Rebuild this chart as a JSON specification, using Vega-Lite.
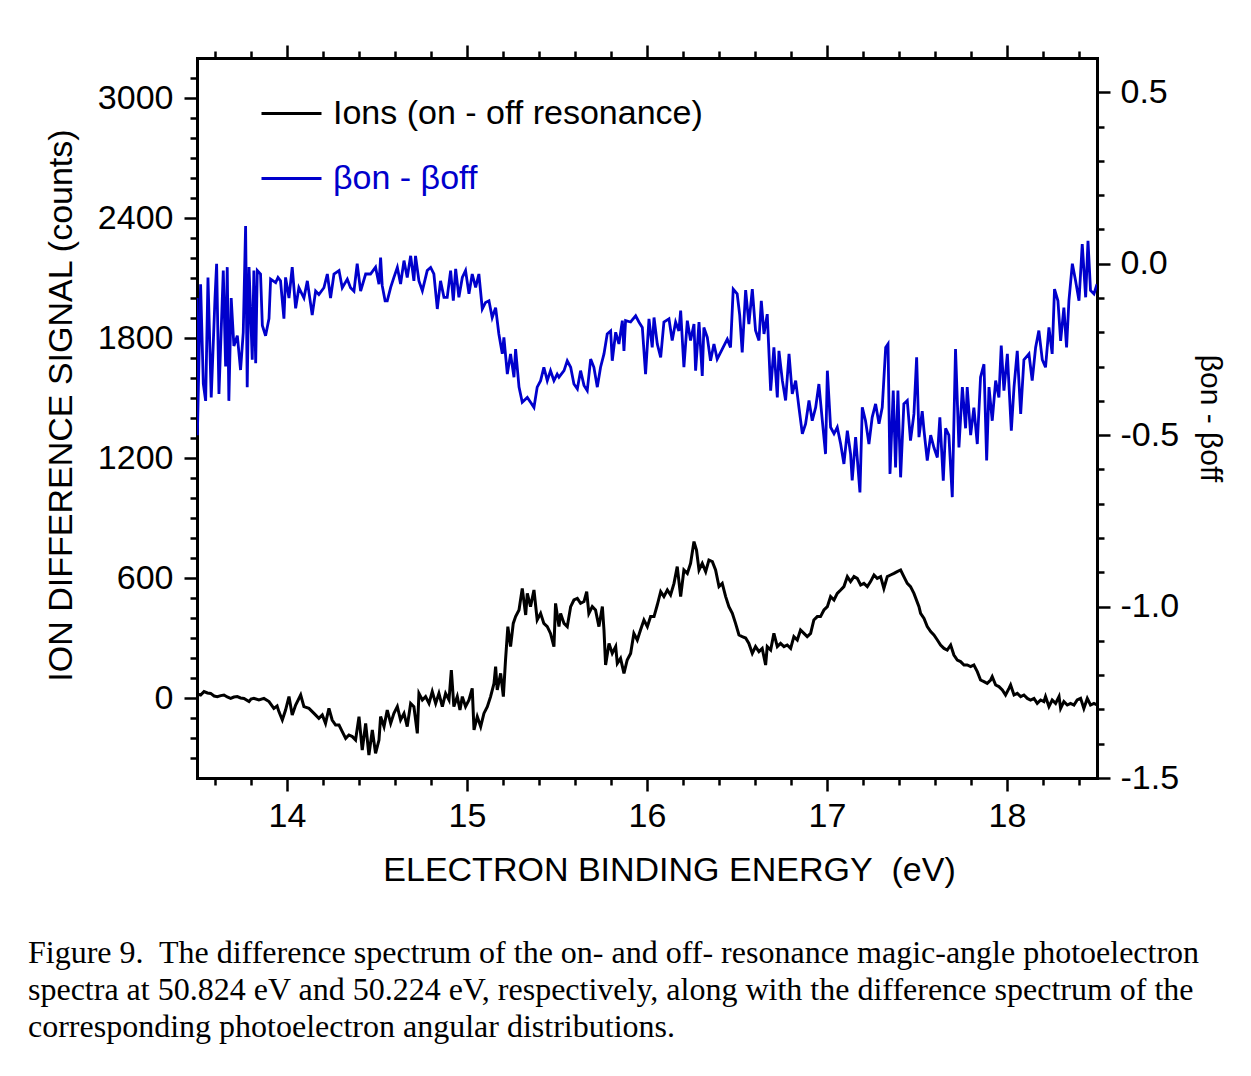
{
  "$schema": "https://vega.github.io/schema/vega-lite/v6.json",
  "width": 900,
  "height": 720,
  "autosize": {"type": "none"},
  "padding": {"left": 197, "top": 58, "right": 154, "bottom": 298},
  "background": "white",
  "config": {
    "view": {"stroke": null},
    "font": "Liberation Sans",
    "axis": {
      "grid": false,
      "domainColor": "black",
      "domainWidth": 3,
      "domainCap": "square",
      "tickColor": "black",
      "tickWidth": 2.5,
      "labelColor": "black",
      "titleColor": "black",
      "labelFont": "Liberation Sans",
      "titleFont": "Liberation Sans",
      "labelFontSize": 34,
      "titleFontSize": 34,
      "titleFontWeight": "normal",
      "labelOverlap": false,
      "labelFlush": false,
      "labelBound": false
    }
  },
  "datasets": {
    "ions": [
      {"E":13.500,"c":20},{"E":13.520,"c":15},{"E":13.539,"c":32},{"E":13.558,"c":25},{"E":13.576,"c":23},{"E":13.595,"c":10},{"E":13.613,"c":7},{"E":13.632,"c":12},{"E":13.650,"c":15},{"E":13.668,"c":5},{"E":13.687,"c":-2},{"E":13.705,"c":5},{"E":13.724,"c":7},{"E":13.742,"c":0},{"E":13.761,"c":-2},{"E":13.789,"c":-18},{"E":13.800,"c":-5},{"E":13.816,"c":-2},{"E":13.844,"c":-10},{"E":13.872,"c":-2},{"E":13.900,"c":-18},{"E":13.927,"c":-52},{"E":13.945,"c":-40},{"E":13.955,"c":-68},{"E":13.974,"c":-110},{"E":13.992,"c":-60},{"E":14.011,"c":7},{"E":14.029,"c":-85},{"E":14.048,"c":-35},{"E":14.076,"c":15},{"E":14.094,"c":-43},{"E":14.122,"c":-52},{"E":14.150,"c":-77},{"E":14.177,"c":-102},{"E":14.196,"c":-85},{"E":14.214,"c":-127},{"E":14.233,"c":-52},{"E":14.251,"c":-110},{"E":14.270,"c":-135},{"E":14.289,"c":-135},{"E":14.307,"c":-168},{"E":14.326,"c":-202},{"E":14.344,"c":-185},{"E":14.363,"c":-193},{"E":14.381,"c":-210},{"E":14.400,"c":-93},{"E":14.418,"c":-260},{"E":14.437,"c":-127},{"E":14.455,"c":-285},{"E":14.474,"c":-160},{"E":14.492,"c":-277},{"E":14.511,"c":-210},
      {"E":14.520,"c":-93},{"E":14.539,"c":-143},{"E":14.557,"c":-60},{"E":14.576,"c":-127},{"E":14.594,"c":-77},{"E":14.613,"c":-43},{"E":14.631,"c":-110},{"E":14.650,"c":-77},{"E":14.668,"c":-143},{"E":14.687,"c":-27},{"E":14.705,"c":-43},{"E":14.724,"c":-177},{"E":14.733,"c":23},{"E":14.752,"c":-10},{"E":14.770,"c":7},{"E":14.789,"c":-27},{"E":14.807,"c":32},{"E":14.826,"c":-27},{"E":14.844,"c":23},{"E":14.863,"c":-43},{"E":14.881,"c":23},{"E":14.900,"c":-10},{"E":14.913,"c":140},{"E":14.927,"c":-43},{"E":14.946,"c":7},{"E":14.961,"c":-60},{"E":14.974,"c":7},{"E":14.992,"c":-43},{"E":15.011,"c":-10},{"E":15.029,"c":48},{"E":15.039,"c":-160},{"E":15.057,"c":-93},{"E":15.076,"c":-143},{"E":15.094,"c":-77},{"E":15.113,"c":-43},{"E":15.131,"c":7},{"E":15.150,"c":73},{"E":15.159,"c":157},{"E":15.168,"c":40},{"E":15.187,"c":123},{"E":15.202,"c":7},{"E":15.214,"c":190},{"E":15.227,"c":357},{"E":15.242,"c":257},{"E":15.257,"c":373},{"E":15.270,"c":407},{"E":15.289,"c":440},{"E":15.307,"c":548},{"E":15.326,"c":415},{"E":15.335,"c":523},{"E":15.353,"c":457},{"E":15.372,"c":540},{"E":15.390,"c":390},{"E":15.409,"c":423},{"E":15.427,"c":373},{"E":15.446,"c":357},{"E":15.464,"c":323},{"E":15.483,"c":257},{"E":15.492,"c":473},{"E":15.511,"c":357},
      {"E":15.520,"c":423},{"E":15.539,"c":373},{"E":15.557,"c":357},{"E":15.576,"c":457},{"E":15.594,"c":490},{"E":15.613,"c":498},{"E":15.631,"c":473},{"E":15.650,"c":482},{"E":15.665,"c":532},{"E":15.677,"c":423},{"E":15.696,"c":457},{"E":15.714,"c":440},{"E":15.733,"c":357},{"E":15.752,"c":457},{"E":15.761,"c":340},{"E":15.770,"c":165},{"E":15.789,"c":273},{"E":15.807,"c":223},{"E":15.826,"c":257},{"E":15.835,"c":173},{"E":15.853,"c":198},{"E":15.872,"c":123},{"E":15.890,"c":190},{"E":15.909,"c":223},{"E":15.927,"c":323},{"E":15.946,"c":290},{"E":15.964,"c":340},{"E":15.983,"c":390},{"E":16.002,"c":357},{"E":16.020,"c":407},{"E":16.039,"c":407},{"E":16.057,"c":465},{"E":16.076,"c":532},{"E":16.094,"c":507},{"E":16.113,"c":540},{"E":16.131,"c":515},{"E":16.150,"c":573},{"E":16.168,"c":657},{"E":16.187,"c":507},{"E":16.205,"c":640},{"E":16.224,"c":623},{"E":16.242,"c":673},{"E":16.261,"c":782},{"E":16.275,"c":740},{"E":16.289,"c":640},{"E":16.307,"c":673},{"E":16.326,"c":632},{"E":16.344,"c":690},{"E":16.363,"c":682},{"E":16.381,"c":640},{"E":16.400,"c":557},{"E":16.418,"c":573},{"E":16.437,"c":507},{"E":16.455,"c":457},{"E":16.474,"c":423},{"E":16.492,"c":373},{"E":16.511,"c":315},
      {"E":16.529,"c":307},{"E":16.548,"c":300},{"E":16.566,"c":273},{"E":16.585,"c":223},{"E":16.603,"c":257},{"E":16.622,"c":232},{"E":16.640,"c":248},{"E":16.659,"c":165},{"E":16.668,"c":257},{"E":16.687,"c":240},{"E":16.705,"c":323},{"E":16.724,"c":257},{"E":16.742,"c":273},{"E":16.761,"c":257},{"E":16.779,"c":265},{"E":16.798,"c":248},{"E":16.816,"c":307},{"E":16.835,"c":290},{"E":16.853,"c":340},{"E":16.872,"c":323},{"E":16.890,"c":307},{"E":16.909,"c":323},{"E":16.927,"c":390},{"E":16.946,"c":407},{"E":16.964,"c":407},{"E":16.983,"c":440},{"E":17.002,"c":457},{"E":17.020,"c":507},{"E":17.039,"c":490},{"E":17.057,"c":523},{"E":17.076,"c":540},{"E":17.094,"c":557},{"E":17.113,"c":607},{"E":17.131,"c":582},{"E":17.150,"c":607},{"E":17.168,"c":598},{"E":17.187,"c":565},{"E":17.205,"c":573},{"E":17.224,"c":557},{"E":17.242,"c":582},{"E":17.261,"c":615},{"E":17.279,"c":598},{"E":17.298,"c":607},{"E":17.316,"c":548},{"E":17.335,"c":607},{"E":17.353,"c":615},{"E":17.372,"c":623},{"E":17.390,"c":632},{"E":17.409,"c":640},{"E":17.427,"c":607},{"E":17.446,"c":573},{"E":17.464,"c":557},{"E":17.483,"c":523},{"E":17.511,"c":457},
      {"E":17.520,"c":423},{"E":17.539,"c":398},{"E":17.557,"c":357},{"E":17.576,"c":332},{"E":17.594,"c":315},{"E":17.613,"c":290},{"E":17.631,"c":265},{"E":17.650,"c":248},{"E":17.668,"c":240},{"E":17.687,"c":265},{"E":17.705,"c":215},{"E":17.724,"c":190},{"E":17.742,"c":182},{"E":17.761,"c":165},{"E":17.779,"c":165},{"E":17.798,"c":157},{"E":17.816,"c":165},{"E":17.835,"c":132},{"E":17.853,"c":90},{"E":17.872,"c":82},{"E":17.890,"c":73},{"E":17.909,"c":90},{"E":17.918,"c":107},{"E":17.937,"c":65},{"E":17.955,"c":57},{"E":17.974,"c":40},{"E":17.992,"c":15},{"E":18.011,"c":48},{"E":18.020,"c":65},{"E":18.039,"c":15},{"E":18.057,"c":23},{"E":18.076,"c":7},{"E":18.094,"c":15},{"E":18.113,"c":-2},{"E":18.131,"c":-10},{"E":18.150,"c":-2},{"E":18.168,"c":-27},{"E":18.187,"c":-10},{"E":18.205,"c":-18},{"E":18.214,"c":7},{"E":18.233,"c":-43},{"E":18.251,"c":-10},{"E":18.270,"c":-27},{"E":18.289,"c":7},{"E":18.298,"c":-52},{"E":18.316,"c":-18},{"E":18.335,"c":-35},{"E":18.353,"c":-27},{"E":18.372,"c":-35},{"E":18.390,"c":-10},{"E":18.409,"c":-2},{"E":18.427,"c":-52},{"E":18.446,"c":-2},{"E":18.464,"c":-35},{"E":18.483,"c":-27},{"E":18.500,"c":-35}
    ],
    "beta": [
      {"E":13.500,"b":-0.10},{"E":13.502,"b":-0.50},{"E":13.520,"b":-0.06},{"E":13.535,"b":-0.35},{"E":13.548,"b":-0.40},{"E":13.561,"b":-0.04},{"E":13.579,"b":-0.39},{"E":13.600,"b":-0.10},{"E":13.609,"b":0.00},{"E":13.622,"b":-0.38},{"E":13.646,"b":-0.02},{"E":13.659,"b":-0.30},{"E":13.668,"b":-0.01},{"E":13.677,"b":-0.40},{"E":13.690,"b":-0.10},{"E":13.705,"b":-0.24},{"E":13.724,"b":-0.21},{"E":13.742,"b":-0.31},{"E":13.757,"b":-0.20},{"E":13.770,"b":0.11},{"E":13.779,"b":-0.36},{"E":13.789,"b":-0.01},{"E":13.807,"b":-0.28},{"E":13.816,"b":-0.02},{"E":13.826,"b":-0.29},{"E":13.835,"b":-0.02},{"E":13.853,"b":-0.03},{"E":13.863,"b":-0.18},{"E":13.881,"b":-0.21},{"E":13.900,"b":-0.16},{"E":13.909,"b":-0.045},{"E":13.937,"b":-0.055},{"E":13.950,"b":-0.04},{"E":13.964,"b":-0.05},{"E":13.983,"b":-0.16},{"E":13.992,"b":-0.04},{"E":14.011,"b":-0.10},{"E":14.029,"b":-0.01},{"E":14.048,"b":-0.13},{"E":14.066,"b":-0.07},{"E":14.094,"b":-0.10},{"E":14.113,"b":-0.05},{"E":14.140,"b":-0.15},{"E":14.159,"b":-0.08},{"E":14.177,"b":-0.09},{"E":14.205,"b":-0.07},{"E":14.224,"b":-0.03},{"E":14.242,"b":-0.10},{"E":14.261,"b":-0.03},{"E":14.289,"b":-0.02},{"E":14.307,"b":-0.07},{"E":14.335,"b":-0.045},{"E":14.353,"b":-0.07},{"E":14.372,"b":-0.08},{"E":14.390,"b":0.00},{"E":14.409,"b":-0.08},{"E":14.437,"b":-0.03},{"E":14.464,"b":-0.03},{"E":14.492,"b":-0.01},{"E":14.511,"b":-0.06},
      {"E":14.520,"b":0.018},{"E":14.529,"b":-0.064},{"E":14.545,"b":-0.108},{"E":14.557,"b":-0.108},{"E":14.576,"b":-0.069},{"E":14.594,"b":-0.04},{"E":14.613,"b":-0.011},{"E":14.631,"b":-0.059},{"E":14.650,"b":0.009},{"E":14.668,"b":-0.04},{"E":14.687,"b":0.023},{"E":14.705,"b":-0.05},{"E":14.714,"b":0.023},{"E":14.733,"b":-0.05},{"E":14.752,"b":-0.079},{"E":14.779,"b":-0.02},{"E":14.798,"b":-0.011},{"E":14.816,"b":-0.03},{"E":14.835,"b":-0.132},{"E":14.853,"b":-0.05},{"E":14.872,"b":-0.098},{"E":14.890,"b":-0.098},{"E":14.909,"b":-0.02},{"E":14.924,"b":-0.108},{"E":14.937,"b":-0.015},{"E":14.955,"b":-0.098},{"E":14.974,"b":-0.04},{"E":14.992,"b":-0.02},{"E":15.011,"b":-0.088},{"E":15.029,"b":-0.03},{"E":15.048,"b":-0.069},{"E":15.066,"b":-0.03},{"E":15.085,"b":-0.132},{"E":15.103,"b":-0.113},{"E":15.122,"b":-0.108},{"E":15.140,"b":-0.157},{"E":15.159,"b":-0.128},{"E":15.177,"b":-0.205},{"E":15.196,"b":-0.263},{"E":15.205,"b":-0.215},{"E":15.224,"b":-0.322},{"E":15.242,"b":-0.263},{"E":15.261,"b":-0.331},{"E":15.270,"b":-0.249},{"E":15.289,"b":-0.36},{"E":15.307,"b":-0.404},{"E":15.335,"b":-0.39},{"E":15.353,"b":-0.404},{"E":15.372,"b":-0.419},{"E":15.390,"b":-0.36},{"E":15.409,"b":-0.341},{"E":15.427,"b":-0.302},{"E":15.446,"b":-0.341},{"E":15.464,"b":-0.312},{"E":15.483,"b":-0.341},{"E":15.501,"b":-0.322},
      {"E":15.511,"b":-0.331},{"E":15.539,"b":-0.312},{"E":15.557,"b":-0.283},{"E":15.576,"b":-0.302},{"E":15.594,"b":-0.351},{"E":15.613,"b":-0.365},{"E":15.631,"b":-0.312},{"E":15.650,"b":-0.355},{"E":15.668,"b":-0.37},{"E":15.687,"b":-0.278},{"E":15.705,"b":-0.302},{"E":15.724,"b":-0.36},{"E":15.742,"b":-0.302},{"E":15.761,"b":-0.263},{"E":15.779,"b":-0.205},{"E":15.798,"b":-0.196},{"E":15.807,"b":-0.283},{"E":15.826,"b":-0.2},{"E":15.844,"b":-0.234},{"E":15.863,"b":-0.166},{"E":15.872,"b":-0.254},{"E":15.881,"b":-0.166},{"E":15.909,"b":-0.17},{"E":15.937,"b":-0.152},{"E":15.955,"b":-0.17},{"E":15.974,"b":-0.186},{"E":15.992,"b":-0.322},{"E":16.011,"b":-0.161},{"E":16.029,"b":-0.244},{"E":16.039,"b":-0.157},{"E":16.057,"b":-0.234},{"E":16.076,"b":-0.273},{"E":16.094,"b":-0.17},{"E":16.122,"b":-0.161},{"E":16.140,"b":-0.224},{"E":16.159,"b":-0.17},{"E":16.177,"b":-0.196},{"E":16.187,"b":-0.137},{"E":16.205,"b":-0.302},{"E":16.224,"b":-0.166},{"E":16.242,"b":-0.224},{"E":16.261,"b":-0.176},{"E":16.270,"b":-0.312},{"E":16.289,"b":-0.17},{"E":16.307,"b":-0.327},{"E":16.316,"b":-0.186},{"E":16.335,"b":-0.215},{"E":16.353,"b":-0.283},{"E":16.372,"b":-0.234},{"E":16.390,"b":-0.278},{"E":16.418,"b":-0.249},{"E":16.446,"b":-0.22},{"E":16.464,"b":-0.244},{"E":16.475,"b":-0.12},{"E":16.479,"b":-0.074},{"E":16.501,"b":-0.088},
      {"E":16.515,"b":-0.15},{"E":16.529,"b":-0.259},{"E":16.548,"b":-0.077},{"E":16.566,"b":-0.176},{"E":16.585,"b":-0.074},{"E":16.603,"b":-0.195},{"E":16.622,"b":-0.224},{"E":16.635,"b":-0.108},{"E":16.650,"b":-0.205},{"E":16.668,"b":-0.147},{"E":16.687,"b":-0.37},{"E":16.705,"b":-0.244},{"E":16.724,"b":-0.39},{"E":16.733,"b":-0.254},{"E":16.752,"b":-0.341},{"E":16.770,"b":-0.399},{"E":16.789,"b":-0.263},{"E":16.807,"b":-0.38},{"E":16.826,"b":-0.341},{"E":16.844,"b":-0.419},{"E":16.863,"b":-0.496},{"E":16.881,"b":-0.467},{"E":16.900,"b":-0.399},{"E":16.918,"b":-0.458},{"E":16.937,"b":-0.419},{"E":16.955,"b":-0.351},{"E":16.974,"b":-0.458},{"E":16.992,"b":-0.555},{"E":17.002,"b":-0.312},{"E":17.020,"b":-0.477},{"E":17.039,"b":-0.496},{"E":17.057,"b":-0.477},{"E":17.076,"b":-0.526},{"E":17.094,"b":-0.584},{"E":17.113,"b":-0.487},{"E":17.131,"b":-0.555},{"E":17.140,"b":-0.632},{"E":17.159,"b":-0.506},{"E":17.183,"b":-0.667},{"E":17.196,"b":-0.419},{"E":17.214,"b":-0.458},{"E":17.233,"b":-0.526},{"E":17.251,"b":-0.448},{"E":17.270,"b":-0.409},{"E":17.289,"b":-0.467},{"E":17.307,"b":-0.419},{"E":17.326,"b":-0.244},{"E":17.339,"b":-0.234},{"E":17.350,"b":-0.613},{"E":17.368,"b":-0.37},{"E":17.381,"b":-0.594},{"E":17.394,"b":-0.37},{"E":17.409,"b":-0.623},{"E":17.427,"b":-0.409},{"E":17.446,"b":-0.399},{"E":17.464,"b":-0.516},{"E":17.483,"b":-0.438},{"E":17.498,"b":-0.273},{"E":17.511,"b":-0.506},
      {"E":17.529,"b":-0.43},{"E":17.539,"b":-0.487},{"E":17.557,"b":-0.574},{"E":17.576,"b":-0.50},{"E":17.594,"b":-0.536},{"E":17.613,"b":-0.565},{"E":17.627,"b":-0.448},{"E":17.646,"b":-0.633},{"E":17.659,"b":-0.48},{"E":17.677,"b":-0.50},{"E":17.696,"b":-0.681},{"E":17.714,"b":-0.249},{"E":17.733,"b":-0.536},{"E":17.752,"b":-0.36},{"E":17.770,"b":-0.48},{"E":17.779,"b":-0.36},{"E":17.798,"b":-0.50},{"E":17.816,"b":-0.42},{"E":17.835,"b":-0.526},{"E":17.853,"b":-0.331},{"E":17.872,"b":-0.293},{"E":17.887,"b":-0.574},{"E":17.900,"b":-0.36},{"E":17.918,"b":-0.458},{"E":17.937,"b":-0.341},{"E":17.955,"b":-0.39},{"E":17.968,"b":-0.239},{"E":17.983,"b":-0.37},{"E":18.002,"b":-0.263},{"E":18.024,"b":-0.487},{"E":18.039,"b":-0.36},{"E":18.057,"b":-0.254},{"E":18.076,"b":-0.438},{"E":18.094,"b":-0.28},{"E":18.122,"b":-0.263},{"E":18.140,"b":-0.341},{"E":18.159,"b":-0.244},{"E":18.177,"b":-0.195},{"E":18.196,"b":-0.28},{"E":18.214,"b":-0.302},{"E":18.233,"b":-0.186},{"E":18.251,"b":-0.263},{"E":18.264,"b":-0.074},{"E":18.283,"b":-0.108},{"E":18.298,"b":-0.225},{"E":18.316,"b":-0.128},{"E":18.331,"b":-0.244},{"E":18.344,"b":-0.108},{"E":18.363,"b":0.0},{"E":18.381,"b":-0.05},{"E":18.400,"b":-0.108},{"E":18.418,"b":0.057},{"E":18.437,"b":-0.098},{"E":18.450,"b":0.067},{"E":18.464,"b":-0.078},{"E":18.483,"b":-0.088},{"E":18.500,"b":-0.06}
    ]
  },
  "layer": [
    {
      "data": {"name": "ions"},
      "mark": {"type": "line", "strokeWidth": 3, "clip": true},
      "encoding": {
        "x": {
          "field": "E", "type": "quantitative",
          "scale": {"domain": [13.5, 18.5], "nice": false, "zero": false},
          "axis": {
            "orient": "bottom",
            "title": "ELECTRON BINDING ENERGY\u00a0 (eV)",
            "titleX": 472,
            "titlePadding": 20,
            "values": [13.6,13.8,14,14.2,14.4,14.6,14.8,15,15.2,15.4,15.6,15.8,16,16.2,16.4,16.6,16.8,17,17.2,17.4,17.6,17.8,18,18.2,18.4],
            "tickSize": {"condition": {"test": "abs(datum.value - round(datum.value)) < 1e-6", "value": 13}, "value": 7},
            "labelExpr": "abs(datum.value - round(datum.value)) < 1e-6 ? format(datum.value, 'd') : ''",
            "labelPadding": 8
          }
        },
        "y": {
          "field": "c", "type": "quantitative",
          "scale": {"domain": [-400, 3200], "nice": false, "zero": false},
          "axis": {
            "orient": "left",
            "title": "ION DIFFERENCE SIGNAL (counts)",
            "titleY": 347,
            "titlePadding": 19,
            "values": [-300,-200,-100,0,100,200,300,400,500,600,700,800,900,1000,1100,1200,1300,1400,1500,1600,1700,1800,1900,2000,2100,2200,2300,2400,2500,2600,2700,2800,2900,3000,3100],
            "tickSize": {"condition": {"test": "datum.value % 600 === 0", "value": 13}, "value": 7},
            "labelExpr": "datum.value % 600 === 0 ? format(datum.value, 'd') : ''",
            "labelPadding": 11
          }
        },
        "color": {
          "datum": "Ions (on - off resonance)",
          "type": "nominal",
          "scale": {"domain": ["Ions (on - off resonance)", "βon - βoff"], "range": ["black", "#0000cc"]},
          "legend": {
            "orient": "none",
            "legendX": 63,
            "legendY": 24,
            "title": null,
            "padding": 0,
            "symbolType": "stroke",
            "symbolSize": 3600,
            "symbolStrokeWidth": 3,
            "labelFont": "Liberation Sans",
            "labelFontSize": 34,
            "labelOffset": 10,
            "labelLimit": 700,
            "rowPadding": 16,
            "labelColor": {"expr": "datum.label === 'Ions (on - off resonance)' ? 'black' : '#0000cc'"}
          }
        }
      }
    },
    {
      "data": {"name": "beta"},
      "mark": {"type": "line", "strokeWidth": 2.8, "clip": true},
      "encoding": {
        "x": {
          "field": "E", "type": "quantitative",
          "axis": {
            "orient": "top",
            "title": null,
            "labels": false,
            "values": [13.6,13.8,14,14.2,14.4,14.6,14.8,15,15.2,15.4,15.6,15.8,16,16.2,16.4,16.6,16.8,17,17.2,17.4,17.6,17.8,18,18.2,18.4],
            "tickSize": {"condition": {"test": "abs(datum.value - round(datum.value)) < 1e-6", "value": 13}, "value": 7}
          }
        },
        "y": {
          "field": "b", "type": "quantitative",
          "scale": {"domain": [-1.5, 0.6], "nice": false, "zero": false},
          "axis": {
            "orient": "right",
            "title": "βon - βoff",
            "titleFontSize": 30,
            "titlePadding": 16,
            "values": [-1.5,-1.4,-1.3,-1.2,-1.1,-1.0,-0.9,-0.8,-0.7,-0.6,-0.5,-0.4,-0.3,-0.2,-0.1,0,0.1,0.2,0.3,0.4,0.5],
            "tickSize": {"condition": {"test": "abs(datum.value * 2 - round(datum.value * 2)) < 1e-6", "value": 13}, "value": 7},
            "labelExpr": "abs(datum.value * 2 - round(datum.value * 2)) < 1e-6 ? (datum.value < -1e-9 ? '-' + format(-datum.value, '.1f') : format(abs(datum.value), '.1f')) : ''",
            "labelPadding": 10
          }
        },
        "color": {"datum": "βon - βoff", "type": "nominal"}
      }
    }
  ],
  "resolve": {"scale": {"y": "independent"}, "axis": {"x": "independent"}},
  "title": {
    "text": [
      "Figure 9.\u00a0 The difference spectrum of the on- and off- resonance magic-angle photoelectron",
      "spectra at 50.824 eV and 50.224 eV, respectively, along with the difference spectrum of the",
      "corresponding photoelectron angular distributions."
    ],
    "orient": "bottom",
    "anchor": "start",
    "frame": "group",
    "align": "left",
    "dx": -169,
    "offset": 51,
    "font": "Liberation Serif",
    "fontSize": 32,
    "fontWeight": "normal",
    "color": "black",
    "lineHeight": 37
  }
}
